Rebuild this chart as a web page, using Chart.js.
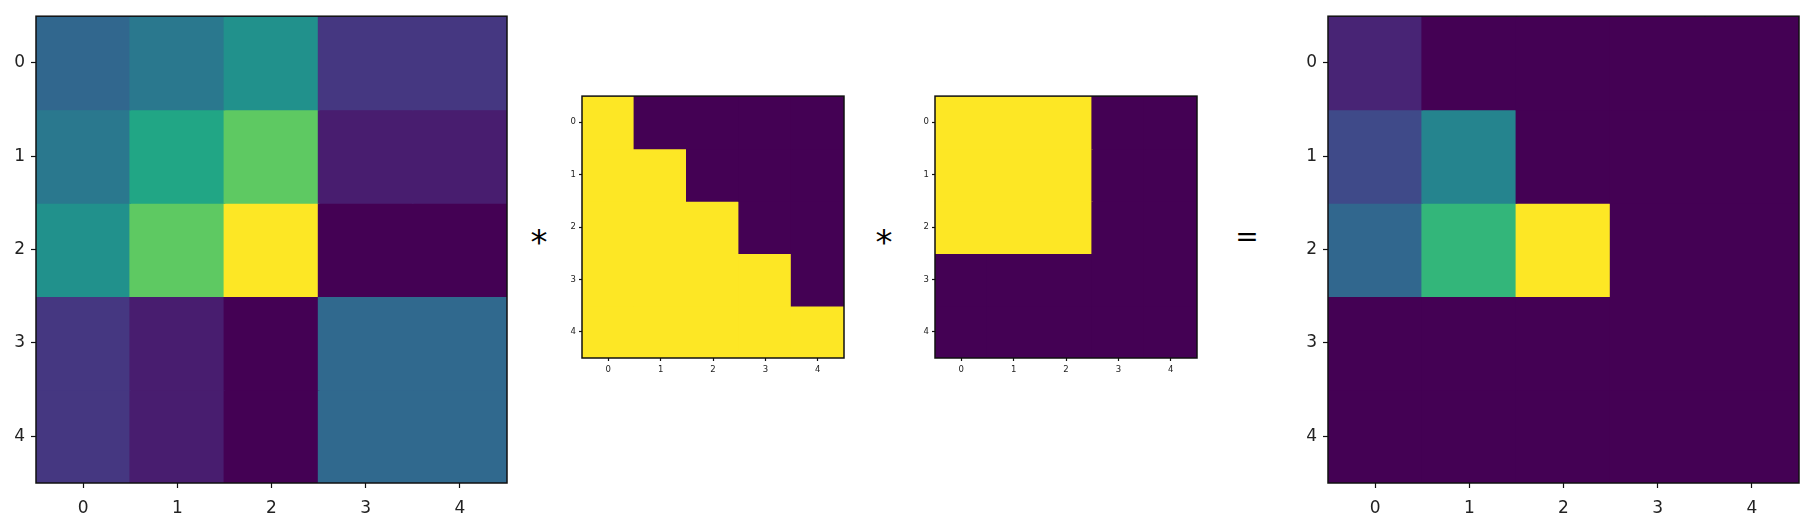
<!DOCTYPE html>
<html>
<head>
<meta charset="utf-8">
<script src="https://cdn.jsdelivr.net/npm/chart.js@4/dist/chart.umd.min.js"></script>
<style>
  body { margin: 0; background: #fff; }
  #page { position: relative; width: 1811px; height: 526px; overflow: hidden; }
  .box { position: absolute; }
  .op { position: absolute; font-family: "DejaVu Sans", sans-serif; color: #000; line-height: 1; transform: translate(-50%, -50%); }
</style>
</head>
<body>
<div id="page">
  <div class="box" id="box-a"><canvas id="chart-a"></canvas></div>
  <div class="box" id="box-b"><canvas id="chart-b"></canvas></div>
  <div class="box" id="box-c"><canvas id="chart-c"></canvas></div>
  <div class="box" id="box-d"><canvas id="chart-d"></canvas></div>
  <div class="op" id="op1" style="left:539px; top:242px; font-size:34px;">*</div>
  <div class="op" id="op2" style="left:884px; top:242px; font-size:34px;">*</div>
  <div class="op" id="op3" style="left:1247px; top:237px; font-size:28px;">=</div>
</div>
<script>
'use strict';

// tick labels (rows and columns of every matrix)
const rowLabels = ['0', '1', '2', '3', '4'];
const colLabels = ['0', '1', '2', '3', '4'];

// colour levels (0 = darkest, 1 = brightest viridis)
const matrixA = [
  [0.33, 0.40, 0.50, 0.16, 0.16],
  [0.40, 0.59, 0.75, 0.08, 0.08],
  [0.50, 0.75, 1.00, 0.00, 0.00],
  [0.16, 0.08, 0.00, 0.34, 0.34],
  [0.16, 0.08, 0.00, 0.34, 0.34]
];
const maskLower = [
  [1, 0, 0, 0, 0],
  [1, 1, 0, 0, 0],
  [1, 1, 1, 0, 0],
  [1, 1, 1, 1, 0],
  [1, 1, 1, 1, 1]
];
const maskBlock = [
  [1, 1, 1, 0, 0],
  [1, 1, 1, 0, 0],
  [1, 1, 1, 0, 0],
  [0, 0, 0, 0, 0],
  [0, 0, 0, 0, 0]
];
const result = [
  [0.10, 0.00, 0.00, 0, 0],
  [0.22, 0.45, 0.00, 0, 0],
  [0.33, 0.66, 1.00, 0, 0],
  [0.00, 0.00, 0.00, 0, 0],
  [0.00, 0.00, 0.00, 0, 0]
];

// viridis colormap, 21 stops
const viridis = ['#440154', '#471365', '#482475', '#463480', '#414487', '#3b528b',
  '#355f8d', '#2f6c8e', '#2a788e', '#25848e', '#21918c', '#1e9c89', '#22a884',
  '#2fb47c', '#44bf70', '#5ec962', '#7ad151', '#9bd93c', '#bddf26', '#dfe318', '#fde725'];

function hexToRgb(h) {
  return [parseInt(h.slice(1, 3), 16), parseInt(h.slice(3, 5), 16), parseInt(h.slice(5, 7), 16)];
}
function colorOf(v) {
  const t = Math.max(0, Math.min(1, v)) * (viridis.length - 1);
  const i = Math.min(Math.floor(t), viridis.length - 2);
  const f = t - i;
  const a = hexToRgb(viridis[i]);
  const b = hexToRgb(viridis[i + 1]);
  const c = a.map((x, k) => Math.round(x + (b[k] - x) * f));
  return `rgb(${c[0]},${c[1]},${c[2]})`;
}

// draws the black box round the plot area
const framePlugin = {
  id: 'frame',
  afterDraw(chart) {
    const a = chart.chartArea;
    const ctx = chart.ctx;
    ctx.save();
    ctx.strokeStyle = '#111';
    ctx.lineWidth = 1.5;
    ctx.strokeRect(a.left, a.top, a.right - a.left, a.bottom - a.top);
    ctx.restore();
  }
};

function heatmap(id, values, p) {
  const box = document.getElementById('box-' + id);
  box.style.left = (p.left - p.yW) + 'px';
  box.style.top = (p.top - p.padTop) + 'px';
  box.style.width = (p.yW + p.size + p.padRight) + 'px';
  box.style.height = (p.padTop + p.size + p.xH) + 'px';

  const datasets = rowLabels.map((r, ri) => ({
    data: colLabels.map(() => [ri - 0.5, ri + 0.5]),
    backgroundColor: values[ri].map(colorOf),
    borderWidth: 0,
    inflateAmount: 0.8,
    grouped: false,
    barPercentage: 1,
    categoryPercentage: 1
  }));

  const tickFont = { family: 'DejaVu Sans', size: p.font };
  new Chart(document.getElementById('chart-' + id), {
    type: 'bar',
    data: { labels: colLabels, datasets: datasets },
    options: {
      responsive: true,
      maintainAspectRatio: false,
      animation: false,
      layout: { padding: { top: p.padTop, right: p.padRight, left: 0, bottom: 0 } },
      plugins: { legend: { display: false }, tooltip: { enabled: false } },
      scales: {
        x: {
          type: 'category',
          offset: true,
          grid: { offset: false, drawOnChartArea: false, drawTicks: true, tickLength: p.tick, tickColor: '#111', tickWidth: 1.2 },
          border: { display: false },
          ticks: { font: tickFont, color: '#222', padding: p.padX, maxRotation: 0 },
          afterFit(scale) { scale.height = p.xH; }
        },
        y: {
          type: 'linear',
          min: -0.5,
          max: 4.5,
          reverse: true,
          afterBuildTicks(scale) { scale.ticks = rowLabels.map((r, i) => ({ value: i })); },
          grid: { drawOnChartArea: false, drawTicks: true, tickLength: p.tick, tickColor: '#111', tickWidth: 1.2 },
          border: { display: false },
          ticks: { font: tickFont, color: '#222', padding: p.pad, callback: (v) => rowLabels[v] },
          afterFit(scale) { scale.width = p.yW; }
        }
      }
    },
    plugins: [framePlugin]
  });
}

const big = { size: 471, top: 12, yW: 36, xH: 43, padTop: 12, padRight: 8, font: 17, tick: 5, pad: 6, padX: 10 };
const small = { size: 262, top: 96, yW: 30, xH: 28, padTop: 8, padRight: 8, font: 8.5, tick: 3, pad: 3, padX: 4 };

heatmap('a', matrixA, Object.assign({}, big, { left: 36 }));
heatmap('b', maskLower, Object.assign({}, small, { left: 582 }));
heatmap('c', maskBlock, Object.assign({}, small, { left: 935 }));
heatmap('d', result, Object.assign({}, big, { left: 1328 }));
</script>
</body>
</html>
